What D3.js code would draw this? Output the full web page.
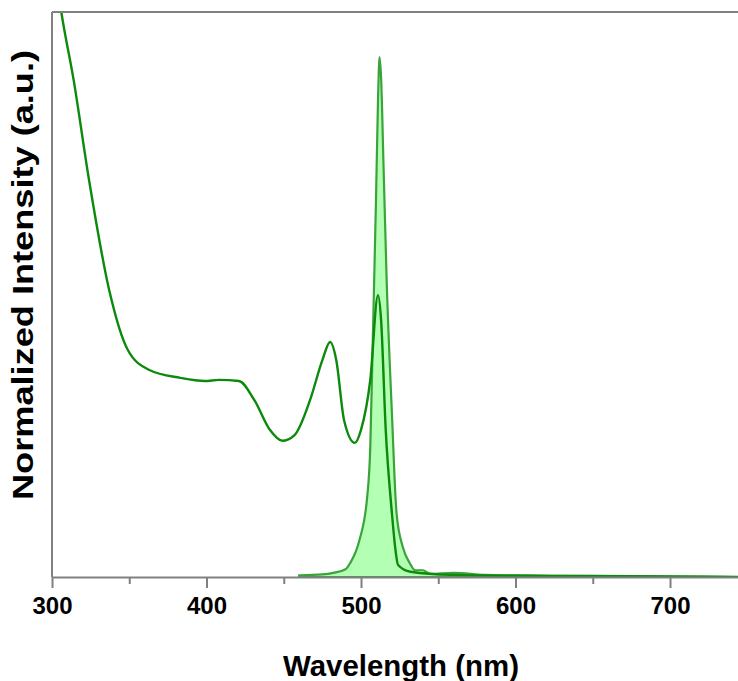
<!DOCTYPE html>
<html>
<head>
<meta charset="utf-8">
<script src="https://d3js.org/d3.v7.min.js"></script>
<style>body{margin:0;background:#fff}</style>
</head>
<body>
<div class="canvas"></div>
<script>
// absorption spectrum (nm, normalized)
const absWl  = [302,306,314,324,337,349,363,383,399,408,421,431,441,449,457,467,475,480,484,489,496,500,506,511,513,516,520,522,524,532,558,622,700,744];
const absVal = [1.17,1.087,0.956,0.763,0.552,0.437,0.398,0.383,0.377,0.379,0.377,0.34,0.283,0.262,0.273,0.34,0.417,0.452,0.417,0.302,0.258,0.283,0.379,0.542,0.494,0.283,0.123,0.06,0.023,0.01,0.004,0.002,0.001,0];
// emission spectrum
const emWl  = [460,475,482,490,493,499,504,506,507.5,509.7,511,512,513,514.5,516.6,520,523,527,531.5,535,540,545,560,580,600,650,700,744];
const emVal = [0.003,0.005,0.008,0.015,0.027,0.071,0.154,0.25,0.44,0.725,0.917,1.0,0.96,0.8,0.571,0.315,0.123,0.058,0.027,0.013,0.013,0.006,0.008,0.004,0.003,0.002,0.001,0];
const xTicks = [300,400,500,600,700];

const dims = {width:738, height:681};
const m = {left:52, top:12, bottom:577, right:738};

const svg = d3.select(".canvas").append("svg")
    .attr("width", dims.width)
    .attr("height", dims.height)
    .style("font-family", "Arial, 'Liberation Sans', sans-serif");

const x = d3.scaleLinear().domain([300, 744]).range([m.left, m.right]);
const y = d3.scaleLinear().domain([0, 1]).range([m.bottom, 57]);

svg.append("clipPath").attr("id", "clip")
  .append("rect").attr("x", m.left).attr("y", m.top)
  .attr("width", m.right - m.left).attr("height", m.bottom - m.top);

const g = svg.append("g").attr("clip-path", "url(#clip)");

const em = emWl.map((d, i) => [d, emVal[i]]);
const ab = absWl.map((d, i) => [d, absVal[i]]);

g.append("path")
    .datum(em)
    .attr("fill", "#b3ffb3")
    .attr("stroke", "#3aa33a")
    .attr("stroke-width", 2.2)
    .attr("d", d3.area().x(d => x(d[0])).y0(y(0)).y1(d => y(d[1])).curve(d3.curveMonotoneX));

g.append("path")
    .datum(ab)
    .attr("fill", "none")
    .attr("stroke", "#0b8a0b")
    .attr("stroke-width", 2.4)
    .attr("d", d3.line().x(d => x(d[0])).y(d => y(d[1])).curve(d3.curveMonotoneX));

// frame
const axisCol = "#808080";
svg.append("line").attr("x1", m.left).attr("x2", m.right).attr("y1", m.top).attr("y2", m.top)
    .attr("stroke", axisCol).attr("stroke-width", 2);
svg.append("line").attr("x1", m.left).attr("x2", m.left).attr("y1", m.top).attr("y2", m.bottom)
    .attr("stroke", axisCol).attr("stroke-width", 2);

const xAxis = svg.append("g")
    .attr("transform", `translate(0,${m.bottom})`)
    .call(d3.axisBottom(x).tickValues(d3.range(300, 751, 50)).tickSize(7).tickFormat(d => xTicks.includes(d) ? d : "").tickSizeOuter(0));
xAxis.select(".domain").attr("stroke", axisCol).attr("stroke-width", 2);
xAxis.selectAll(".tick line").attr("stroke", axisCol).attr("stroke-width", 2)
    .attr("y2", d => xTicks.includes(d) ? 11 : 7);
xAxis.selectAll(".tick text")
    .attr("y", 20)
    .attr("dy", "0.71em")
    .attr("fill", "#000")
    .attr("font-size", 24)
    .attr("font-weight", "bold");

svg.append("text")
    .attr("x", 401).attr("y", 676)
    .attr("text-anchor", "middle")
    .attr("font-size", 29).attr("font-weight", "bold")
    .attr("textLength", 236).attr("lengthAdjust", "spacingAndGlyphs")
    .text("Wavelength (nm)");

svg.append("text")
    .attr("transform", "translate(33,275) rotate(-90)")
    .attr("text-anchor", "middle")
    .attr("font-size", 29).attr("font-weight", "bold")
    .attr("textLength", 450).attr("lengthAdjust", "spacingAndGlyphs")
    .text("Normalized Intensity (a.u.)");
</script>
</body>
</html>
